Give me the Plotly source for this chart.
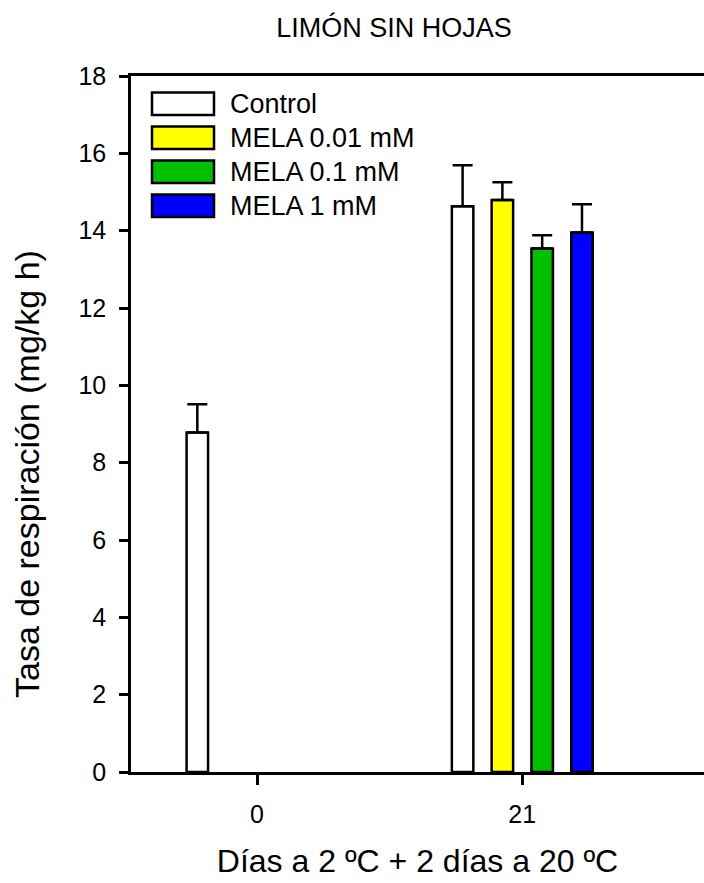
import plotly.graph_objects as go

# ---- data ----
days = ["0", "21"]
series_names = ["Control", "MELA 0.01 mM", "MELA 0.1 mM", "MELA 1 mM"]
control = [8.78, 14.63]
control_err = [0.73, 1.06]
mela_001 = [None, 14.79]
mela_001_err = [0, 0.46]
mela_01 = [None, 13.54]
mela_01_err = [0, 0.34]
mela_1 = [None, 13.95]
mela_1_err = [0, 0.73]
y_ticks = [0, 2, 4, 6, 8, 10, 12, 14, 16, 18]

values = [control, mela_001, mela_01, mela_1]
errors = [control_err, mela_001_err, mela_01_err, mela_1_err]
colors = ["#FFFFFF", "#FFFF00", "#00C000", "#0000FF"]

W, H = 704, 883
ML, MR, MT, MB = 131, 0, 76, 111
font = "Liberation Sans, Arial, sans-serif"

fig = go.Figure()
for name, v, e, c in zip(series_names, values, errors, colors):
    fig.add_trace(go.Bar(
        x=days, y=v, name=name,
        marker=dict(color=c, line=dict(color="black", width=2.5)),
        error_y=dict(type="data", symmetric=False, array=e,
                     arrayminus=[0] * len(e), color="black",
                     thickness=2.5, width=10),
        showlegend=False,
    ))

# pixel -> plot-area (paper) fractions
pw = W - ML - MR
ph = H - MT - MB
def xd(px):
    return (px - ML) / pw
def yd(py):
    return (H - MB - py) / ph

# manual legend (wide boxes like the reference)
row_tops = [92.5, 126.5, 160.5, 194.5]
box_h = 22.5
for name, c, top in zip(series_names, colors, row_tops):
    fig.add_shape(type="rect", xref="x domain", yref="y domain",
                  x0=xd(152), x1=xd(214), y0=yd(top + box_h), y1=yd(top),
                  fillcolor=c, line=dict(color="black", width=2.5))
    fig.add_annotation(xref="x domain", yref="y domain",
                       x=xd(228), y=yd(top + box_h / 2), text=name,
                       showarrow=False, xanchor="left", yanchor="middle",
                       font=dict(family=font, size=27, color="black"))

# y-axis title (placed like the reference, slightly below the axis centre)
fig.add_annotation(xref="paper", yref="paper", x=xd(27), y=yd(474),
                   text="Tasa de respiración (mg/kg h)", textangle=-90,
                   showarrow=False, xanchor="center", yanchor="middle",
                   font=dict(family=font, size=34, color="black"))

fig.update_layout(
    width=W, height=H,
    margin=dict(l=ML, r=MR, t=MT, b=MB),
    paper_bgcolor="white", plot_bgcolor="white",
    barmode="group", bargap=0.4, bargroupgap=0.46,
    title=dict(text="LIMÓN SIN HOJAS", x=(276 + 512) / 2 / W, xanchor="center",
               y=1 - 28 / H, yanchor="middle",
               font=dict(family=font, size=27, color="black")),
    font=dict(family=font, color="black"),
)
fig.update_xaxes(
    type="category", range=[-0.475, 1.685],
    showline=True, linecolor="black", linewidth=2.5, mirror=True,
    ticks="outside", ticklen=10, tickwidth=2.5, tickcolor="black",
    tickfont=dict(family=font, size=25, color="black"),
    ticklabelstandoff=8,
    showgrid=False, zeroline=False,
    title=dict(text="Días a 2 ºC + 2 días a 20 ºC", standoff=23,
               font=dict(family=font, size=32, color="black")),
)
fig.update_yaxes(
    range=[0, 18], tickvals=y_ticks,
    showline=True, linecolor="black", linewidth=2.5,
    ticks="outside", ticklen=9, tickwidth=2.5, tickcolor="black",
    tickfont=dict(family=font, size=25, color="black"),
    ticklabelstandoff=8,
    showgrid=False, zeroline=False,
)

fig.write_html(
    "out.html",
    config={"displayModeBar": False},
    post_script="document.documentElement.style.overflow='hidden';document.body.style.margin='0';document.body.style.overflow='hidden';",
)
